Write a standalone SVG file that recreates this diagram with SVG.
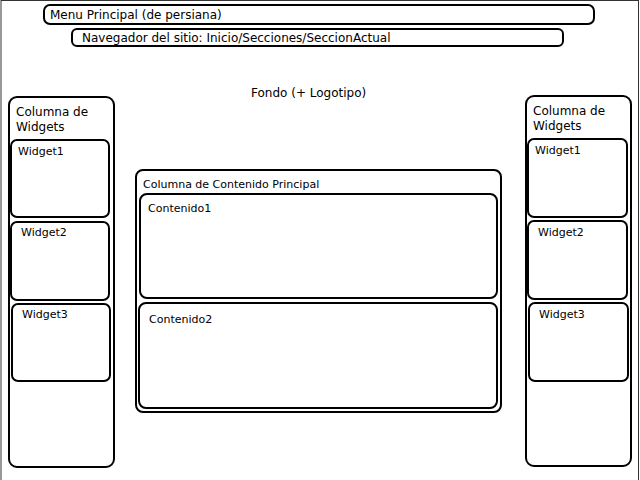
<svg xmlns="http://www.w3.org/2000/svg" width="640" height="480" viewBox="0 0 640 480">
<style>
.box{fill:#fff;stroke:#000;stroke-width:2}
.t{font-family:"DejaVu Sans",sans-serif;fill:#000}
.l{font-size:12px}
.s{font-size:11px}
</style>
<rect x="0" y="0" width="640" height="480" fill="#fff"/>
<rect x="1" y="0.5" width="637.5" height="490" fill="none" stroke="#333" stroke-width="1"/>
<g id="menu"><rect class="box" x="44" y="5" width="550" height="19" rx="6"/><text class="t l" x="50" y="19">Menu Principal (de persiana)</text></g>
<g id="nav"><rect class="box" x="72" y="29" width="491" height="17" rx="5"/><text class="t l" x="82" y="42">Navegador del sitio: Inicio/Secciones/SeccionActual</text></g>
<g id="fondo"><text class="t l" x="251" y="97">Fondo (+ Logotipo)</text></g>
<g id="colIzq"><rect class="box" x="9" y="97" width="105" height="370" rx="8"/><text class="t l" x="16" y="116">Columna de</text><text class="t l" x="16" y="131">Widgets</text></g>
<g id="izqW1"><rect class="box" x="11" y="140" width="98" height="77" rx="6"/><text class="t s" x="18" y="155">Widget1</text></g>
<g id="izqW2"><rect class="box" x="11" y="222" width="98" height="78" rx="6"/><text class="t s" x="21" y="236">Widget2</text></g>
<g id="izqW3"><rect class="box" x="12" y="304" width="98" height="77" rx="6"/><text class="t s" x="22" y="318">Widget3</text></g>
<g id="colDer"><rect class="box" x="526" y="96" width="105" height="370" rx="8"/><text class="t l" x="533" y="115">Columna de</text><text class="t l" x="533" y="130">Widgets</text></g>
<g id="derW1"><rect class="box" x="528" y="139" width="99" height="78" rx="6"/><text class="t s" x="535" y="154">Widget1</text></g>
<g id="derW2"><rect class="box" x="528" y="221" width="99" height="78" rx="6"/><text class="t s" x="538" y="236">Widget2</text></g>
<g id="derW3"><rect class="box" x="529" y="303" width="99" height="78" rx="6"/><text class="t s" x="539" y="318">Widget3</text></g>
<g id="colPrincipal"><rect class="box" x="136" y="170" width="365" height="242" rx="7"/><text class="t s" x="143" y="188">Columna de Contenido Principal</text></g>
<g id="contenido1"><rect class="box" x="140" y="194" width="357" height="104" rx="7"/><text class="t s" x="148" y="212">Contenido1</text></g>
<g id="contenido2"><rect class="box" x="139" y="303" width="358" height="105" rx="7"/><text class="t s" x="149" y="323">Contenido2</text></g>
<g id="connectors"/>
</svg>
